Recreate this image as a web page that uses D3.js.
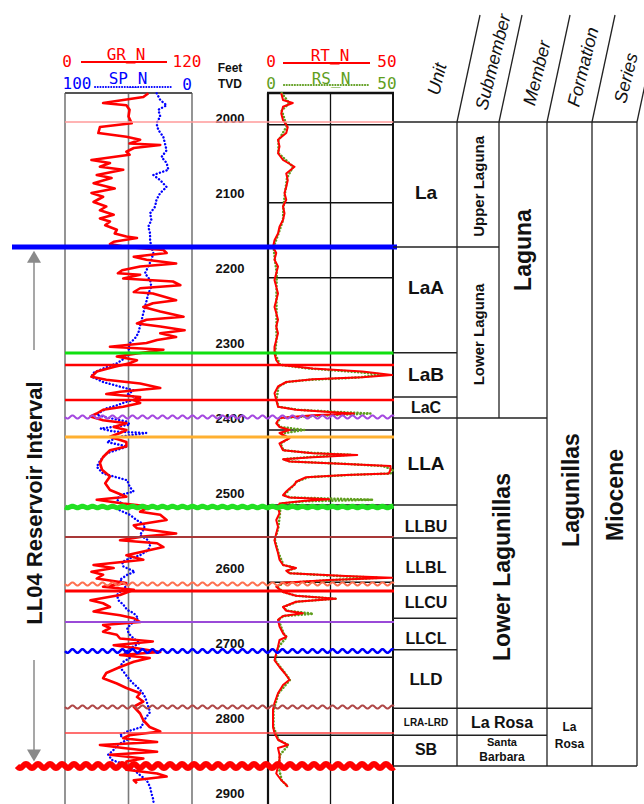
<!DOCTYPE html>
<html>
<head>
<meta charset="utf-8">
<script src="https://cdn.jsdelivr.net/npm/d3@7"></script>
<style>
  body { margin: 0; background: #fff; }
  svg { display: block; }
</style>
</head>
<body>
<script>
let depthTicks = [2000, 2100, 2200, 2300, 2400, 2500, 2600, 2700, 2800, 2900];
let resGridDepths = [2009, 2113, 2213, 2313, 2416, 2516, 2619, 2719, 2823];

// [depth ft, value]
let grLog = [[1967,78.8],[1972,74],[1980,36],[1983,58],[1989,61],[1998,60],[2007,63],[2012,33],[2020,31.5],[2025,58],[2029,71],[2034,61],[2036,90],[2040,65],[2045,58],[2049,61],[2056,25],[2060,42.5],[2065,33],[2069,55],[2076,30],[2080,44],[2087,27],[2094,47],[2100,25],[2105,36],[2112,27],[2118,39],[2123,33],[2129,46],[2134,33],[2138,42.5],[2143,38],[2149,49],[2154,47],[2158,58],[2160,68],[2165,46],[2168,42.5],[2172,58],[2176,93],[2180,96],[2185,65],[2189,77],[2194,105],[2198,71],[2203,54],[2207,50],[2209,71],[2214,55],[2218,102],[2223,109],[2227,71],[2232,65],[2234,83],[2238,93],[2243,105],[2247,83],[2252,74],[2258,90],[2265,112],[2269,77],[2274,68],[2278,90],[2283,113],[2287,90],[2292,105],[2296,87],[2300,77],[2305,42.5],[2307,68],[2309,93],[2314,68],[2318,49],[2323,68],[2327,61],[2332,46],[2338,30],[2345,25],[2349,39],[2354,71],[2360,90],[2365,52],[2368,39],[2372,71],[2376,65],[2380,71],[2385,55],[2389,36],[2394,30],[2398,24],[2403,36],[2407,58],[2412,46],[2416,58],[2420,52],[2425,42.5],[2432,58],[2438,58],[2443,42.5],[2452,36],[2460,33],[2469,35],[2478,42.5],[2487,38],[2496,42.5],[2505,58],[2509,30],[2514,55],[2518,80],[2525,71],[2529,90],[2536,96],[2543,65],[2547,68],[2554,105],[2558,74],[2563,52],[2567,87],[2572,93],[2578,74],[2583,58],[2589,74],[2596,27],[2600,46],[2605,25],[2609,36],[2614,30],[2620,58],[2625,36],[2629,65],[2636,52],[2643,24],[2647,36],[2652,42.5],[2658,27],[2663,52],[2667,65],[2672,71],[2676,36],[2680,42.5],[2685,36],[2689,49],[2694,52],[2698,83],[2703,46],[2707,68],[2712,90],[2716,52],[2720,80],[2725,65],[2732,52],[2740,39],[2747,36],[2754,49],[2760,58],[2767,71],[2772,68],[2778,74],[2785,65],[2794,71],[2803,74],[2812,80],[2818,90],[2823,61],[2827,55],[2832,87],[2836,33],[2840,55],[2845,87],[2849,42.5],[2854,74],[2858,58],[2863,58],[2869,58],[2874,87],[2878,96],[2883,65],[2887,68]];

let spLog = [[1967,27.8],[1976,25],[1983,20],[1989,26.5],[1998,25],[2007,28],[2016,26.5],[2025,22.6],[2034,21.3],[2043,20],[2052,24],[2060,20],[2069,18.6],[2076,30.4],[2083,25],[2092,20],[2100,25],[2109,28],[2118,29],[2127,33],[2136,32],[2145,34.4],[2154,33],[2163,33],[2172,32],[2180,30.4],[2189,32],[2198,34.4],[2207,37],[2216,33],[2225,32],[2234,34.4],[2243,35.7],[2252,37],[2260,38.3],[2269,39.6],[2278,41],[2287,42.3],[2294,45],[2300,48.8],[2307,50],[2314,48.8],[2320,52.8],[2327,59],[2334,70],[2340,78],[2345,79],[2352,70],[2358,57],[2363,46],[2369,51],[2374,41],[2378,51],[2383,59],[2387,67],[2392,72],[2396,75],[2400,65],[2405,51],[2409,49],[2414,72],[2418,62],[2420,36],[2425,57],[2432,67],[2438,51],[2447,67],[2456,72],[2465,75],[2474,70],[2483,51],[2492,49],[2498,46],[2503,57],[2509,59],[2516,54],[2523,57],[2529,49],[2536,43.6],[2543,37],[2549,38.3],[2556,41],[2563,34.4],[2569,33],[2576,34.4],[2583,41],[2587,49],[2592,55],[2598,54],[2605,45],[2609,51],[2616,57],[2623,51],[2629,55],[2636,59],[2643,58],[2649,54],[2656,51],[2660,46],[2667,42.3],[2674,47.5],[2680,51],[2687,50],[2694,46],[2700,41],[2707,49],[2714,53],[2720,49],[2725,54],[2732,57],[2738,54],[2745,51],[2752,47.5],[2758,43.6],[2765,39.6],[2772,37],[2778,35.7],[2785,34.4],[2792,33],[2798,35.7],[2805,38.3],[2812,39.6],[2818,51],[2823,57],[2829,51],[2836,59],[2843,62],[2849,66],[2856,63],[2863,51],[2869,46],[2876,41],[2883,35.7],[2892,33],[2900,32],[2909,30.4],[2925,30],[2945,30]];

let rtLog = [[1967,5.3],[1976,6],[1980,9.9],[1985,6],[1994,5.3],[2003,6],[2012,7.9],[2020,7.3],[2029,4],[2038,4.6],[2047,4],[2056,6],[2065,10.6],[2074,7.3],[2083,7.9],[2092,7.3],[2100,6.6],[2109,7.3],[2118,6],[2127,6.6],[2136,6],[2145,4.6],[2154,4],[2163,2.6],[2172,2],[2180,3.3],[2189,2.6],[2198,4],[2207,3.3],[2216,2.6],[2225,3.3],[2234,4],[2243,3.3],[2252,2.6],[2260,3.3],[2269,4],[2278,3.3],[2287,4],[2296,3.3],[2305,2.6],[2314,2.6],[2323,3.3],[2329,4.6],[2334,17.9],[2338,37.7],[2342.7,49.6],[2345.8,37.7],[2348.4,17.9],[2352,7.3],[2358,4],[2367,2.6],[2376,3.3],[2385,4],[2389,11.2],[2392,24.5],[2394,34.4],[2396.4,17.9],[2400,4.6],[2407,3.3],[2412,4.6],[2416,8.6],[2420,4.6],[2427,8.6],[2434,4.6],[2443,6],[2447,17.9],[2449.3,35.7],[2452.4,17.9],[2455,6],[2458,8.6],[2461.3,31.1],[2464,49],[2469,49],[2474,48.3],[2476,31.1],[2479,15.2],[2485,11.2],[2489,10.6],[2494,8.6],[2498,7.3],[2503,6],[2506,8.6],[2508.4,24.5],[2510.7,13.9],[2514,4.6],[2520,4],[2527,4.6],[2536,3.3],[2545,4],[2554,3.3],[2563,2.6],[2572,3.3],[2580,4],[2589,4.6],[2596,6],[2600,11.2],[2603.5,7.3],[2607,8.6],[2610.7,31.1],[2612.9,49.6],[2616,24.5],[2619.6,6],[2625,3.3],[2632,6],[2637,11.2],[2641,27.1],[2645,11.2],[2652,6],[2657,7.3],[2660.4,13.9],[2664,6],[2669,4],[2678,4.6],[2687,6],[2692,7.3],[2696,4.6],[2705,4],[2714,3.3],[2723,2.6],[2732,4.6],[2740,6.6],[2749,8.6],[2756,6],[2767,4],[2780,2.6],[2789,2],[2803,2],[2812,2],[2820,2.6],[2829,4],[2836,7.9],[2840,4],[2849,4.6],[2858,4.6],[2865,4],[2874,3.3],[2883,5.3],[2889,7.3],[2892,7.9]];

let rsLog = [[1967,5.5],[1980,8.5],[1990,5.5],[2011,7.5],[2030,4.2],[2047,4.2],[2065,10],[2080,7.6],[2100,6.8],[2118,6.2],[2136,6],[2154,4.2],[2172,2.2],[2190,2.8],[2207,3.5],[2225,3.4],[2243,3.4],[2260,3.4],[2278,3.4],[2296,3.4],[2314,2.8],[2329,4.8],[2334,16],[2338,33],[2342,46],[2346,36],[2349,17],[2352,7.5],[2358,4.2],[2376,3.4],[2385,4.2],[2389,12],[2392,28],[2394,41],[2397,20],[2400,5],[2407,3.5],[2412,5],[2416,14.5],[2421,5],[2427,8.4],[2434,5],[2443,6.2],[2446,15],[2449,33],[2452,17],[2455,6.2],[2458,9],[2461,30],[2464,46],[2469,50],[2474,49],[2476,32],[2479,16],[2485,11.5],[2494,9],[2503,6.3],[2506,9],[2509,42],[2511,15],[2514,5],[2527,4.8],[2545,4.2],[2563,2.8],[2580,4.2],[2596,6.2],[2600,11],[2604,7.5],[2607,9],[2611,30],[2613,44],[2616,26],[2620,6.3],[2625,3.5],[2632,6.2],[2637,11],[2641,27],[2645,11.5],[2652,6.2],[2657,7.5],[2661,18],[2664,6.2],[2669,4.2],[2687,6.2],[2692,7.5],[2705,4.2],[2723,2.8],[2740,6.8],[2749,8.8],[2767,4.2],[2790,2.2],[2812,2.2],[2829,4.2],[2836,8.2],[2849,4.8],[2865,4.2],[2883,5.5],[2892,8]];

// correlation markers (depth ft)
let markerDepths = [2005.3, 2172, 2313.3, 2329.3, 2376, 2398.7, 2425.3, 2518.7, 2558.7, 2621.3, 2630.7, 2672, 2710.7, 2785.3, 2820, 2864];

// stratigraphy
let units = ["La", "LaA", "LaB", "LaC", "LLA", "LLBU", "LLBL", "LLCU", "LLCL", "LLD", "LRA-LRD", "SB"];
let unitTops = [2005, 2172, 2313, 2372, 2400, 2516, 2560, 2624, 2667, 2709, 2787, 2823];
let unitBase = 2864;
let submembers = ["Upper Laguna", "Lower Laguna"];
let submemberTops = [2005, 2172, 2400];
let headers = ["Unit", "Submember", "Member", "Formation", "Series"];

// ---- styles / layout ----
let markerStyle = [
  {c: "#ff9a9a", w: 1.5}, {c: "#0000ff", w: 5, x0: 12, x1: 397}, {c: "#10e010", w: 3},
  {c: "#ff0000", w: 2.5}, {c: "#ff0000", w: 2.5}, {c: "#a448e0", w: 2, wave: 1.6},
  {c: "#ffb030", w: 3}, {c: "#22e022", w: 5, wave: 0.8}, {c: "#a83838", w: 2},
  {c: "#ff7050", w: 2, wave: 1.6}, {c: "#ff0000", w: 3}, {c: "#9a4ad8", w: 2},
  {c: "#0000ff", w: 2.5, wave: 1.8}, {c: "#b04848", w: 2, wave: 1.6}, {c: "#ff4040", w: 1.5},
  {c: "#ff0000", w: 6, wave: 2, x0: 17, wl: 12}
];
let unitFont = [19, 19, 19, 16, 19, 16, 16, 16, 16, 17, 10, 16];
let unitNudge = [8, -12, 0, 0, 2, 5, 5, 0, 4, 0, 1, -1];

let w = 644, h = 804;
let svg = d3.select("body").append("svg").attr("width", w).attr("height", h);

let y = d3.scaleLinear().domain([2000, 2900]).range([118, 793]);
let grX = d3.scaleLinear().domain([0, 120]).range([65, 192]);
let spX = d3.scaleLinear().domain([100, 0]).range([65, 192]);
let rX = d3.scaleLinear().domain([0, 50]).range([268, 393]);

let sans = "'Liberation Sans', Arial, sans-serif";
let mono = "'DejaVu Sans Mono', monospace";

// ---- track grids ----
let trackTop = 93;
[0, 60, 120].forEach(v => {
  svg.append("line").attr("x1", grX(v)).attr("x2", grX(v))
    .attr("y1", trackTop).attr("y2", h)
    .attr("stroke", "#7a7a7a").attr("stroke-width", 1.6);
});
svg.append("line").attr("x1", grX(0)).attr("x2", grX(120))
  .attr("y1", trackTop).attr("y2", trackTop)
  .attr("stroke", "#555").attr("stroke-width", 2);

svg.selectAll(".rgrid").data(resGridDepths).enter().append("line")
  .attr("x1", rX(0)).attr("x2", rX(50))
  .attr("y1", d => y(d)).attr("y2", d => y(d))
  .attr("stroke", "#111").attr("stroke-width", 1.6);
[[0, 2.2], [25, 1.3], [50, 2]].forEach(([v, sw]) => {
  svg.append("line").attr("x1", rX(v)).attr("x2", rX(v))
    .attr("y1", trackTop).attr("y2", h)
    .attr("stroke", "#111").attr("stroke-width", sw);
});
svg.append("line").attr("x1", rX(0) - 1).attr("x2", rX(50) + 1)
  .attr("y1", trackTop).attr("y2", trackTop)
  .attr("stroke", "#111").attr("stroke-width", 2.5);

// ---- depth axis ----
let axis = d3.axisLeft(y).tickValues(depthTicks).tickSize(0).tickFormat(d3.format("d"));
let ax = svg.append("g").attr("transform", "translate(230,0)").call(axis);
ax.select(".domain").remove();
ax.selectAll("text")
  .attr("x", 0).attr("text-anchor", "middle")
  .style("font-family", sans).style("font-weight", "bold")
  .style("font-size", "13px").attr("fill", "#111");

// ---- curves ----
let grLine = d3.line().x(d => grX(d[1])).y(d => y(d[0]));
let spLine = d3.line().x(d => spX(d[1])).y(d => y(d[0]));
let rLine = d3.line().x(d => rX(d[1])).y(d => y(d[0]));

svg.append("path").datum(spLog).attr("d", spLine)
  .attr("fill", "none").attr("stroke", "#0000ff").attr("stroke-width", 2.4)
  .attr("stroke-linecap", "round").attr("stroke-dasharray", "0.1 3.4");
svg.append("path").datum(grLog).attr("d", grLine)
  .attr("fill", "none").attr("stroke", "#ff0000").attr("stroke-width", 2.6)
  .attr("stroke-linejoin", "round");

svg.append("path").datum(rsLog).attr("d", rLine)
  .attr("fill", "none").attr("stroke", "#5f9e1e").attr("stroke-width", 2.6)
  .attr("stroke-linecap", "round").attr("stroke-dasharray", "0.1 3.2");
svg.append("path").datum(rtLog).attr("d", rLine)
  .attr("fill", "none").attr("stroke", "#ff0000").attr("stroke-width", 2)
  .attr("stroke-linejoin", "round");

// ---- marker lines ----
function wavy(x0, x1, yy, amp, wl) {
  let pts = d3.range(x0, x1 + 0.5, 1).map(x => [x, yy + amp * Math.sin((x - x0) / wl * 2 * Math.PI)]);
  return d3.line()(pts);
}
markerDepths.forEach((d, i) => {
  let s = markerStyle[i];
  let x0 = s.x0 ?? 65, x1 = s.x1 ?? 394;
  let p = s.wave ? wavy(x0, x1, y(d), s.wave, s.wl ?? 10) : d3.line()([[x0, y(d)], [x1, y(d)]]);
  svg.append("path").attr("d", p).attr("fill", "none")
    .attr("stroke", s.c).attr("stroke-width", s.w);
});

// ---- curve headers ----
function htext(txt, x, yy, col, size, anchor) {
  svg.append("text").attr("x", x).attr("y", yy).text(txt)
    .attr("fill", col).attr("text-anchor", anchor || "middle")
    .style("font-family", mono).style("font-size", size + "px");
}
htext("0", 67, 67, "#ff0000", 16);
htext("GR_N", 126, 60, "#ff0000", 16);
htext("120", 187, 67, "#ff0000", 16);
svg.append("line").attr("x1", 81).attr("x2", 167).attr("y1", 62).attr("y2", 62)
  .attr("stroke", "#ff0000").attr("stroke-width", 1.8);
htext("100", 77, 89, "#0000ff", 16);
htext("SP_N", 128, 84, "#0000ff", 16);
htext("0", 187, 90, "#0000ff", 16);
svg.append("line").attr("x1", 95).attr("x2", 173).attr("y1", 87).attr("y2", 87)
  .attr("stroke", "#0000ff").attr("stroke-width", 2)
  .attr("stroke-linecap", "round").attr("stroke-dasharray", "0.1 2.6");

htext("0", 271, 67, "#ff0000", 16);
htext("RT_N", 330, 61, "#ff0000", 16);
htext("50", 387, 67, "#ff0000", 16);
svg.append("line").attr("x1", 283).attr("x2", 370).attr("y1", 63).attr("y2", 63)
  .attr("stroke", "#ff0000").attr("stroke-width", 1.8);
htext("0", 271, 89, "#5f9e1e", 16);
htext("RS_N", 331, 84, "#5f9e1e", 16);
htext("50", 387, 89, "#5f9e1e", 16);
svg.append("line").attr("x1", 284).attr("x2", 370).attr("y1", 85).attr("y2", 85)
  .attr("stroke", "#5f9e1e").attr("stroke-width", 2.2)
  .attr("stroke-linecap", "round").attr("stroke-dasharray", "0.1 2.6");

["Feet", "TVD"].forEach((t, i) => {
  svg.append("text").attr("x", 230).attr("y", 72 + i * 16).text(t)
    .attr("text-anchor", "middle").attr("fill", "#111")
    .style("font-family", sans).style("font-weight", "bold").style("font-size", "12px");
});

// ---- reservoir interval arrow ----
let ax0 = 34;
let g = svg.append("g").attr("stroke", "#8a8a8a").attr("fill", "#8a8a8a");
g.append("line").attr("x1", ax0).attr("x2", ax0).attr("y1", y(2180)).attr("y2", 350).attr("stroke-width", 1.5);
g.append("line").attr("x1", ax0).attr("x2", ax0).attr("y1", 660).attr("y2", y(2850)).attr("stroke-width", 1.5);
g.append("path").attr("d", `M${ax0},${y(2177)} l-7,12 l14,0 z`).attr("stroke", "none");
g.append("path").attr("d", `M${ax0},${y(2858)} l-7,-12 l14,0 z`).attr("stroke", "none");
svg.append("text").attr("transform", `translate(${ax0 + 8},503) rotate(-90)`)
  .attr("text-anchor", "middle").text("LL04 Reservoir Interval")
  .attr("fill", "#111").style("font-family", sans).style("font-weight", "bold").style("font-size", "22px");

// ---- stratigraphic column ----
let colX = [393, 457, 499, 547, 592, 637];
let headY = 122, baseY = y(unitBase);
let tl = svg.append("g").attr("stroke", "#222").attr("stroke-width", 1.3);
function seg(x1, y1, x2, y2) {
  tl.append("line").attr("x1", x1).attr("y1", y1).attr("x2", x2).attr("y2", y2);
}
seg(colX[0], headY, colX[5], headY);
seg(colX[0], baseY, colX[5], baseY);
[1, 3, 4, 5].forEach(i => seg(colX[i], headY, colX[i], baseY));
seg(colX[2], headY, colX[2], y(2400));
unitTops.slice(1).forEach(d => seg(colX[0], y(d), colX[1], y(d)));
seg(colX[1], y(submemberTops[1]), colX[2], y(submemberTops[1]));
seg(colX[1], y(2400), colX[3], y(2400));
seg(colX[1], y(2787), colX[4], y(2787));
seg(colX[1], y(2823), colX[3], y(2823));
// slanted header lines
colX.slice(1).forEach(x => seg(x, headY, x + 23, 15));

// header labels
let headPos = [[437, 79], [493, 62], [537, 73], [583, 67], [626, 78]];
headers.forEach((t, i) => {
  svg.append("text").attr("transform", `translate(${headPos[i][0]},${headPos[i][1]}) rotate(-76)`)
    .attr("text-anchor", "middle").attr("dominant-baseline", "central").text(t)
    .attr("fill", "#111").style("font-family", sans).style("font-style", "italic").style("font-size", "18px");
});

// unit labels
units.forEach((u, i) => {
  let top = y(unitTops[i]);
  let bot = i < units.length - 1 ? y(unitTops[i + 1]) : baseY;
  svg.append("text").attr("x", (colX[0] + colX[1]) / 2 + 1)
    .attr("y", (top + bot) / 2 + unitNudge[i])
    .attr("text-anchor", "middle").attr("dominant-baseline", "central").text(u)
    .attr("fill", "#111").style("font-family", sans).style("font-weight", "bold")
    .style("font-size", unitFont[i] + "px");
});

function vtext(t, x, yy, size) {
  svg.append("text").attr("transform", `translate(${x},${yy}) rotate(-90)`)
    .attr("text-anchor", "middle").attr("dominant-baseline", "central").text(t)
    .attr("fill", "#111").style("font-family", sans).style("font-weight", "bold")
    .style("font-size", size + "px");
}
submembers.forEach((s, i) => {
  vtext(s, (colX[1] + colX[2]) / 2, (y(submemberTops[i]) + y(submemberTops[i + 1])) / 2 + 2, 15);
});
vtext("Laguna", (colX[2] + colX[3]) / 2, 250, 23);
vtext("Lower Lagunillas", (colX[1] + colX[3]) / 2, 567, 23);
vtext("Lagunillas", (colX[3] + colX[4]) / 2 + 1, 490, 23);
vtext("Miocene", (colX[4] + colX[5]) / 2, 495, 23);

function ctext(t, x, yy, size) {
  svg.append("text").attr("x", x).attr("y", yy)
    .attr("text-anchor", "middle").attr("dominant-baseline", "central").text(t)
    .attr("fill", "#111").style("font-family", sans).style("font-weight", "bold")
    .style("font-size", size + "px");
}
ctext("La Rosa", (colX[1] + colX[3]) / 2, 722, 16);
ctext("Santa", (colX[1] + colX[3]) / 2, 742, 11);
ctext("Barbara", (colX[1] + colX[3]) / 2, 757, 12);
ctext("La", (colX[3] + colX[4]) / 2, 727, 12);
ctext("Rosa", (colX[3] + colX[4]) / 2, 744, 12);
</script>
</body>
</html>
